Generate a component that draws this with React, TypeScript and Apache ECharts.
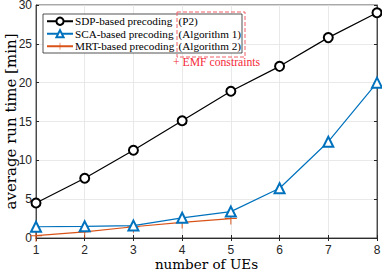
import React, { useEffect, useRef } from "react";
import * as echarts from "echarts";

const ues = ["1", "2", "3", "4", "5", "6", "7", "8"];
const sdp = [4.5, 7.7, 11.3, 15.1, 18.9, 22.1, 25.8, 29.0];
const sca = [1.45, 1.5, 1.6, 2.6, 3.4, 6.4, 12.4, 20.0];
const mrt = [0.3, 0.8, 1.45, 2.0, 2.5];
const seriesNames = ["SDP-based precoding", "SCA-based precoding", "MRT-based precoding"];
const suffixes = ["(P2)", "(Algorithm 1)", "(Algorithm 2)"];
const yTicks = [0, 5, 10, 15, 20, 25, 30];

const plusPath =
  "path://M-0.08,-1 L0.08,-1 L0.08,-0.08 L1,-0.08 L1,0.08 L0.08,0.08 L0.08,1 L-0.08,1 L-0.08,0.08 L-1,0.08 L-1,-0.08 L-0.08,-0.08 Z";

export default function App() {
  const ref = useRef<HTMLDivElement>(null);
  useEffect(() => {
    document.body.style.margin = "0";
    const chart = echarts.init(ref.current!, null, { renderer: "svg" });
    const serif = "Liberation Serif";
    const nameSerif = "DejaVu Serif";
    const sans = "Liberation Sans";
    const axisColor = "#262626";
    const legendTop = 14;
    const padTop = 1;
    const rowH = 12.5;
    chart.setOption({
      animation: false,
      grid: {
        left: 36,
        right: 5,
        top: 5,
        bottom: 33,
        containLabel: false,
        outerBoundsMode: "none",
        show: true,
        borderColor: axisColor,
        borderWidth: 0.8,
        backgroundColor: "#fff",
      },
      legend: {
        left: 43,
        top: legendTop,
        orient: "vertical",
        backgroundColor: "transparent",
        borderWidth: 0,
        padding: [padTop, 2, 0, 3],
        itemGap: 0,
        itemWidth: 26,
        itemHeight: 9,
        z: 20,
        data: seriesNames,
        textStyle: {
          fontFamily: serif,
          fontSize: 11.2,
          lineHeight: rowH,
          color: "#000",
          padding: [0, 0, 0, -3],
        },
      },
      xAxis: [
        {
          type: "category",
          data: ues,
          boundaryGap: false,
          name: "number of UEs",
          nameLocation: "middle",
          nameGap: 19,
          nameMoveOverlap: false,
          nameTextStyle: { fontFamily: nameSerif, fontSize: 13.5, color: "#000" },
          axisLine: { lineStyle: { color: axisColor, width: 0.8 } },
          axisTick: { inside: true, length: 3, lineStyle: { color: axisColor } },
          axisLabel: { fontFamily: sans, fontSize: 12, color: axisColor, margin: 6 },
          splitLine: { show: true, lineStyle: { color: "#e3e3e3", width: 0.8 } },
        },
        {
          type: "category",
          data: ues,
          boundaryGap: false,
          position: "top",
          axisLine: { lineStyle: { color: axisColor, width: 0.8 } },
          axisTick: { inside: true, length: 3, lineStyle: { color: axisColor } },
          axisLabel: { show: false },
          splitLine: { show: false },
        },
      ],
      yAxis: [
        {
          type: "value",
          min: 0,
          max: 30,
          interval: 5,
          name: "average run time [min]",
          nameLocation: "middle",
          nameGap: 18,
          nameMoveOverlap: false,
          nameTextStyle: { fontFamily: nameSerif, fontSize: 15, color: "#000" },
          axisLine: { show: true, lineStyle: { color: axisColor, width: 0.8 } },
          axisTick: { show: true, inside: true, length: 3, lineStyle: { color: axisColor } },
          axisLabel: {
            fontFamily: sans,
            fontSize: 12,
            color: axisColor,
            margin: 4,
            formatter: (v: number) => (yTicks.includes(v) ? String(v) : ""),
          },
          splitLine: { show: true, lineStyle: { color: "#e3e3e3", width: 0.8 } },
        },
        {
          type: "value",
          min: 0,
          max: 30,
          interval: 5,
          position: "right",
          axisLine: { show: true, lineStyle: { color: axisColor, width: 0.8 } },
          axisTick: { show: true, inside: true, length: 3, lineStyle: { color: axisColor } },
          axisLabel: { show: false },
          splitLine: { show: false },
        },
      ],
      series: [
        {
          name: seriesNames[0],
          type: "line",
          data: sdp,
          symbol: "emptyCircle",
          symbolSize: 9,
          color: "#000000",
          lineStyle: { color: "#000000", width: 1.2 },
          itemStyle: { color: "#000000", borderColor: "#000000", borderWidth: 1.3 },
          z: 5,
        },
        {
          name: seriesNames[1],
          type: "line",
          data: sca,
          symbol: "emptyTriangle",
          symbolSize: 10,
          color: "#0072BD",
          lineStyle: { color: "#0072BD", width: 1.2 },
          itemStyle: { color: "#0072BD", borderColor: "#0072BD", borderWidth: 1.4 },
          z: 4,
        },
        {
          name: seriesNames[2],
          type: "line",
          data: mrt,
          symbol: plusPath,
          symbolSize: 12,
          color: "#D95319",
          lineStyle: { color: "#D95319", width: 1.2 },
          itemStyle: { color: "#D95319" },
          z: 3,
        },
      ],
      graphic: [
        {
          type: "rect",
          shape: { x: 43, y: 14, width: 199, height: 39 },
          style: { fill: "#fff", stroke: axisColor, lineWidth: 0.8 },
          z: 15,
        },
        ...suffixes.map((s, i) => ({
          type: "text",
          x: 178.5,
          y: legendTop + padTop + rowH * (i + 0.5),
          style: {
            text: s,
            fill: "#000",
            font: `11.2px ${serif}`,
            verticalAlign: "middle",
          },
          z: 25,
        })),
        {
          type: "rect",
          shape: { x: 177, y: 12, width: 68, height: 45 },
          style: { fill: "none", stroke: "#f0606a", lineWidth: 1, lineDash: [4, 2] },
          z: 30,
        },
        {
          type: "text",
          x: 173,
          y: 62,
          style: {
            text: "+ EMF constraints",
            fill: "#f42a3a",
            font: `11.7px ${serif}`,
            verticalAlign: "middle",
          },
          z: 30,
        },
      ],
    });
    return () => chart.dispose();
  }, []);
  return <div ref={ref} style={{ width: 382, height: 271 }} />;
}
